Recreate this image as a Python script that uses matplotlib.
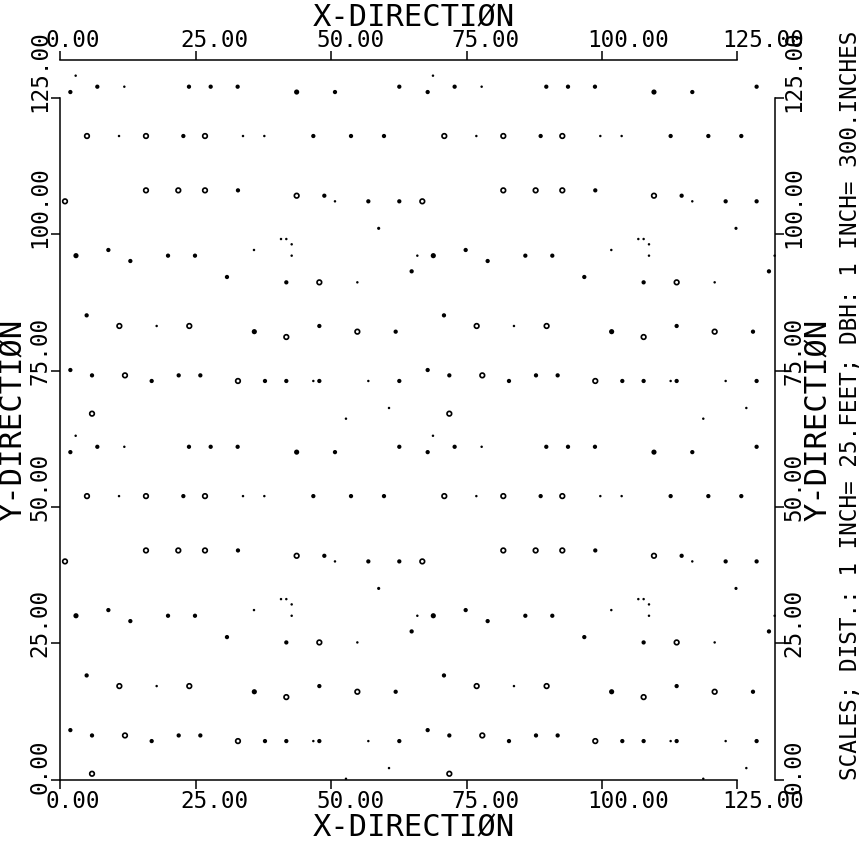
import numpy as np
import matplotlib
matplotlib.use("Agg")
import matplotlib.pyplot as plt

# Tree positions (feet) inside the 66 x 66 ft base plot, read from the map,
# and estimated DBH (inches).  The map shows the plot replicated 2 x 2.
base_x = [2.80, 6.80, 11.79, 23.73, 27.74, 32.72, 62.58, 1.82, 43.62, 50.70,
          4.89, 10.81, 15.79, 22.69, 26.69, 33.71, 37.65, 46.70, 53.66, 59.75,
          15.79, 21.76, 26.69, 32.78, 43.62, 48.73, 0.83, 50.70, 56.86, 62.58,
          58.77, 40.73, 41.71, 42.70, 8.84, 35.74, 2.86, 19.86, 24.84, 42.70,
          65.91, 12.90, 64.86, 30.75, 41.71, 47.81, 54.83, 4.83, 10.87, 17.76,
          23.79, 47.81, 35.80, 54.83, 61.91, 41.71, 1.82, 5.82, 11.91, 21.83,
          25.83, 16.84, 32.78, 37.77, 41.71, 46.70, 47.81, 56.86, 62.58, 60.68,
          5.82, 52.73]
base_y = [63.04, 61.02, 61.02, 61.02, 61.02, 61.02, 61.02, 60.04, 60.04, 60.04,
          51.98, 51.98, 51.98, 51.98, 51.98, 51.98, 51.98, 51.98, 51.98, 51.98,
          42.02, 42.02, 42.02, 42.02, 41.04, 41.04, 40.01, 40.01, 40.01, 40.01,
          35.06, 33.10, 33.10, 32.13, 31.09, 31.09, 30.05, 30.05, 30.05, 30.05,
          30.05, 29.07, 27.18, 26.14, 25.16, 25.16, 25.16, 19.11, 17.16, 17.16,
          17.16, 17.16, 16.12, 16.12, 16.12, 15.14, 9.09, 8.11, 8.11, 8.11,
          8.11, 7.08, 7.08, 7.08, 7.08, 7.08, 7.08, 7.08, 7.08, 2.13,
          1.09, 0.17]
dbh = [5.5, 9.5, 5.5, 9.5, 9.5, 9.5, 9.5, 9.5, 11.5, 9.5,
       14, 5.5, 14, 9.5, 14, 5.5, 5.5, 9.5, 9.5, 9.5,
       14, 14, 14, 9.5, 14, 9.5, 14, 5.5, 9.5, 9.5,
       7, 5.5, 5.5, 5.5, 9.5, 5.5, 11.5, 9.5, 9.5, 5.5,
       5.5, 9.5, 9.5, 9.5, 9.5, 14, 5.5, 9.5, 14, 5.5,
       14, 9.5, 11.5, 14, 9.5, 14, 9.5, 9.5, 14, 9.5,
       9.5, 9.5, 14, 9.5, 9.5, 5.5, 9.5, 5.5, 9.5, 5.5,
       14, 5.5]
plot_size = 66.0          # side of the base plot (ft); map repeats it 2 x 2

x_ticks = [0, 25, 50, 75, 100, 125]
y_ticks = [0, 25, 50, 75, 100, 125]
x_tick_labels = ['0.00', '25.00', '50.00', '75.00', '100.00', '125.00']
y_tick_labels = ['0.00', '25.00', '50.00', '75.00', '100.00', '125.00']
x_title = 'X-DIRECTIØN'
y_title = 'Y-DIRECTIØN'
scales_text = 'SCALES; DIST.: 1 INCH= 25.FEET; DBH: 1 INCH= 300.INCHES'

# ---- build the replicated map from the base plot
bx = np.array(base_x); by = np.array(base_y); bd = np.array(dbh)
X, Y, D = [], [], []
for ox in (0.0, plot_size):
    for oy in (0.0, plot_size):
        X.append(bx + ox); Y.append(by + oy); D.append(bd)
X = np.concatenate(X); Y = np.concatenate(Y); D = np.concatenate(D)

FONT = 'DejaVu Sans Mono'
fig = plt.figure(figsize=(8.65, 8.41), dpi=100)
ax = fig.add_axes([0, 0, 1, 1])
ax.set_xlim(-11.175, 148.6)
ax.set_ylim(-11.235, 142.91)
ax.set_facecolor('white')

far = 2 * plot_size - 0.1
for name, pos in (('left', 0), ('bottom', 0), ('top', far), ('right', far)):
    sp = ax.spines[name]
    sp.set_position(('data', pos))
    sp.set_bounds(0, 125)
    sp.set_linewidth(1.1)
    sp.set_color('black')

ax.set_xticks(x_ticks)
ax.set_yticks(y_ticks)
ax.tick_params(which='both', direction='out', length=6.5, width=1.1,
               top=True, right=True, bottom=True, left=True,
               labelbottom=False, labelleft=False, labeltop=False, labelright=False)

# ---- trees: marker diameter proportional to DBH (1 inch = 300 in DBH)
px_per_in = 0.45
diam = D * px_per_in
filled = D < 13
ax.scatter(X[filled], Y[filled], s=(diam[filled] * 0.72) ** 2, c='black',
           linewidths=0, zorder=3)
ring = ~filled
ring_lw_px = 1.7
ax.scatter(X[ring], Y[ring], s=((diam[ring] - ring_lw_px) * 0.72) ** 2,
           facecolors='white', edgecolors='black', linewidths=ring_lw_px * 0.72,
           zorder=3)

# ---- tick labels
fs = 16.3
for v, lab in zip(x_ticks, x_tick_labels):
    ax.annotate(lab, (v, 0), xytext=(-15, -28), textcoords='offset pixels',
                ha='left', va='baseline', fontsize=fs, family=FONT)
    ax.annotate(lab, (v, far), xytext=(-15, 13), textcoords='offset pixels',
                ha='left', va='baseline', fontsize=fs, family=FONT)
for v, lab in zip(y_ticks, y_tick_labels):
    ax.annotate(lab, (0, v), xytext=(-14, -14), textcoords='offset pixels',
                ha='left', va='baseline', rotation=90, rotation_mode='anchor',
                fontsize=fs, family=FONT)
    ax.annotate(lab, (far, v), xytext=(26, -14), textcoords='offset pixels',
                ha='left', va='baseline', rotation=90, rotation_mode='anchor',
                fontsize=fs, family=FONT)

# ---- axis titles
tfs = 22
ax.annotate(x_title, (plot_size, 0), xytext=(-4, -57), textcoords='offset pixels',
            ha='center', va='baseline', fontsize=tfs, family=FONT)
ax.annotate(x_title, (plot_size, far), xytext=(-4, 34), textcoords='offset pixels',
            ha='center', va='baseline', fontsize=tfs, family=FONT)
ax.annotate(y_title, (0, plot_size), xytext=(-39, 0), textcoords='offset pixels',
            ha='center', va='baseline', rotation=90, rotation_mode='anchor',
            fontsize=tfs, family=FONT)
ax.annotate(y_title, (far, plot_size), xytext=(52, 0), textcoords='offset pixels',
            ha='center', va='baseline', rotation=90, rotation_mode='anchor',
            fontsize=tfs, family=FONT)
ax.annotate(scales_text, (far, 0), xytext=(82, 0), textcoords='offset pixels',
            ha='left', va='baseline', rotation=90, rotation_mode='anchor',
            fontsize=fs, family=FONT)

fig.savefig('out.png', dpi=100, facecolor='white')
